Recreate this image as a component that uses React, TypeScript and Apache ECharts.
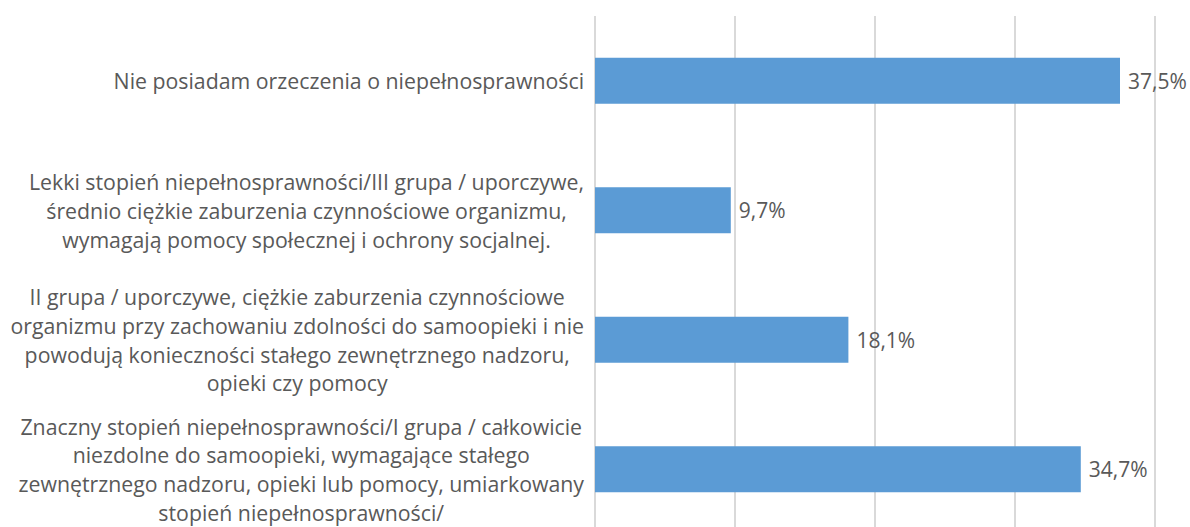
import React, { useEffect, useRef } from "react";
import * as echarts from "echarts";

const categories: string[] = [
  "Nie posiadam orzeczenia o niepełnosprawności",
  "Lekki stopień niepełnosprawności/III grupa / uporczywe,\nśrednio ciężkie zaburzenia czynnościowe organizmu,\nwymagają pomocy społecznej i ochrony socjalnej.",
  "II grupa / uporczywe, ciężkie zaburzenia czynnościowe\norganizmu przy zachowaniu zdolności do samoopieki i nie\npowodują konieczności stałego zewnętrznego nadzoru,\nopieki czy pomocy",
  "Znaczny stopień niepełnosprawności/I grupa / całkowicie\nniezdolne do samoopieki, wymagające stałego\nzewnętrznego nadzoru, opieki lub pomocy, umiarkowany\nstopień niepełnosprawności/",
];
const values: number[] = [37.5, 9.7, 18.1, 34.7];

const FONT = "'Open Sans', 'Liberation Sans', sans-serif";
const TEXT = "#595959";

export default function App() {
  const ref = useRef<HTMLDivElement>(null);
  useEffect(() => {
    if (!ref.current) return;
    const chart = echarts.init(ref.current, null, { renderer: "svg" });
    chart.setOption({
      animation: false,
      grid: {
        left: 595,
        width: 560,
        top: 16,
        height: 518,
        containLabel: false,
        outerBoundsMode: "none",
      },
      xAxis: {
        type: "value",
        min: 0,
        max: 40,
        interval: 10,
        axisLabel: { show: false },
        axisLine: { show: false },
        axisTick: { show: false },
        splitLine: { show: true, lineStyle: { color: "#d9d9d9", width: 2 } },
      },
      yAxis: {
        type: "category",
        inverse: true,
        data: categories,
        axisLine: { show: false },
        axisTick: { show: false },
        axisLabel: {
          interval: 0,
          margin: 11,
          align: "right",
          formatter: (v: string) =>
            v
              .split("\n")
              .map((l) => "{c|" + l + "}")
              .join("\n"),
          rich: {
            c: {
              align: "center",
              fontSize: 21.3,
              lineHeight: 28.8,
              color: TEXT,
              fontFamily: FONT,
            },
          },
        },
      },
      series: [
        {
          type: "bar",
          data: values,
          barWidth: 46,
          itemStyle: { color: "#5B9BD5" },
          label: {
            show: true,
            position: "right",
            distance: 8,
            color: TEXT,
            fontSize: 21,
            fontFamily: FONT,
            formatter: (p: any) => String(p.value).replace(".", ",") + "%",
          },
        },
      ],
    });
    return () => chart.dispose();
  }, []);
  return (
    <div
      ref={ref}
      style={{ position: "absolute", left: 0, top: 0, width: 1190, height: 527, background: "#fff", overflow: "hidden" }}
    />
  );
}
